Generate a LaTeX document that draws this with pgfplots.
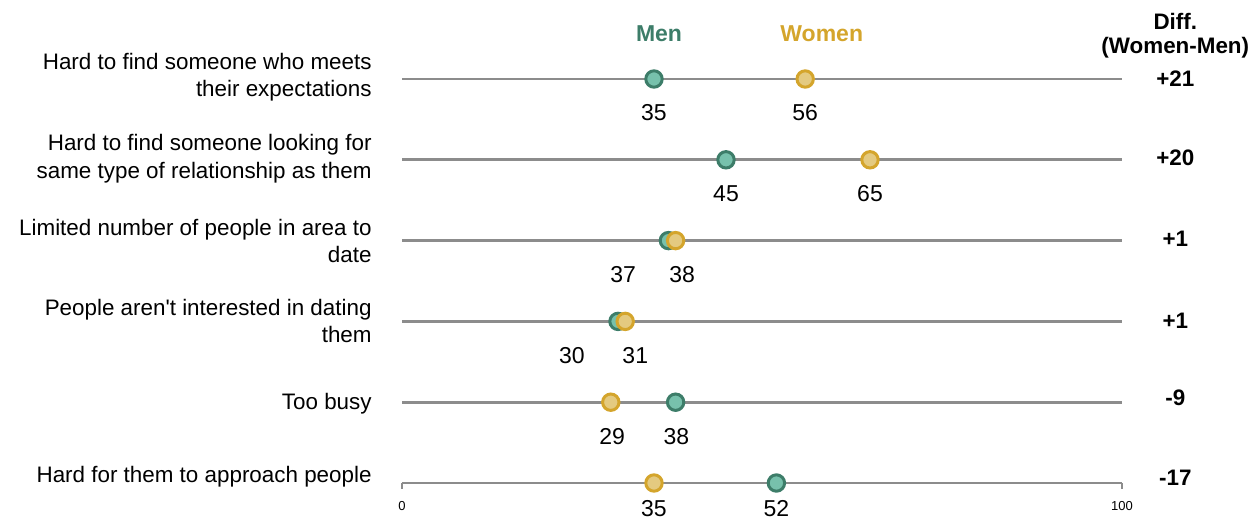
\documentclass[border=0pt]{standalone}
\usepackage{pgfplots}
\pgfplotsset{compat=1.18}
\usepackage{fontspec}
\setmainfont{Liberation Sans}
\definecolor{menE}{HTML}{3D7D69}
\definecolor{menF}{HTML}{77C1AC}
\definecolor{womE}{HTML}{D4A52C}
\definecolor{womF}{HTML}{E4CA80}
\definecolor{lineg}{HTML}{8C8C8C}
\tikzset{
  vl/.style={font=\fontsize{11.5}{13}\selectfont, anchor=center, inner sep=0pt},
  cl/.style={font=\fontsize{11.2}{13.6}\selectfont, anchor=east, align=right, inner sep=0pt},
  dl/.style={font=\fontsize{11.2}{12}\selectfont\bfseries, anchor=center, inner sep=0pt},
}
\begin{document}
\begin{tikzpicture}
\begin{axis}[
  scale only axis, width=630pt, height=259.5pt,
  xmin=-55.833, xmax=119.167, ymin=0.0223, ymax=6.4455, y dir=reverse,
  hide axis, clip=false,
]
% guide lines
\addplot[lineg, line width=1.3pt, unbounded coords=jump] coordinates {
 (0,1)(100,1) (0,nan) (0,2)(100,2) (0,nan) (0,3)(100,3) (0,nan)
 (0,4)(100,4) (0,nan) (0,5)(100,5) (0,nan) (0,6)(100,6)};
\addplot[lineg, line width=1.3pt, unbounded coords=jump] coordinates {
 (0,6)(0,6.075) (0,nan) (100,6)(100,6.075)};
% Men
\addplot[only marks, mark=*, mark size=4.1pt, line width=1.5pt, draw=menE, fill=menF,
  mark options={draw=menE, fill=menF}] coordinates {
 (35,1) (45,2) (37,3) (30,4) (38,5) (52,6)};
% Women
\addplot[only marks, mark=*, mark size=4.1pt, line width=1.5pt, draw=womE, fill=womF,
  mark options={draw=womE, fill=womF}] coordinates {
 (56,1) (65,2) (38,3) (31,4) (29,5) (35,6)};
% value labels
\node[vl] at (axis cs:35,1.415) {35};
\node[vl] at (axis cs:56,1.415) {56};
\node[vl] at (axis cs:45,2.415) {45};
\node[vl] at (axis cs:65,2.415) {65};
\node[vl] at (axis cs:30.7,3.42) {37};
\node[vl] at (axis cs:38.9,3.42) {38};
\node[vl] at (axis cs:23.6,4.42) {30};
\node[vl] at (axis cs:32.4,4.42) {31};
\node[vl] at (axis cs:29.2,5.42) {29};
\node[vl] at (axis cs:38.1,5.42) {38};
\node[vl] at (axis cs:35,6.32) {35};
\node[vl] at (axis cs:52,6.32) {52};
% legend
\node[inner sep=0pt, font=\fontsize{11.5}{13}\selectfont\bfseries, text=menE] at (axis cs:35.7,0.443) {Men};
\node[inner sep=0pt, font=\fontsize{11.5}{13}\selectfont\bfseries, text=womE] at (axis cs:58.3,0.443) {Women};
% tick labels
\node[inner sep=0pt, font=\fontsize{6.5}{8}\selectfont] at (axis cs:0,6.29) {0};
\node[inner sep=0pt, font=\fontsize{6.5}{8}\selectfont] at (axis cs:100,6.29) {100};
% category labels
\node[cl, yshift=0.7pt] at (axis cs:-4.17,1) {Hard to find someone who meets\\their expectations};
\node[cl, yshift=0.5pt] at (axis cs:-4.17,2) {Hard to find someone looking for\\same type of relationship as them};
\node[cl, yshift=0pt] at (axis cs:-4.17,3) {Limited number of people in area to\\date};
\node[cl, yshift=0.3pt] at (axis cs:-4.17,4) {People aren\textquotesingle t interested in dating\\them};
\node[cl, yshift=-0.8pt] at (axis cs:-4.17,5) {Too busy};
\node[cl, yshift=3pt] at (axis cs:-4.17,6) {Hard for them to approach people};
% diff column
\node[dl] at (axis cs:107.4,0.282) {Diff.};
\node[dl] at (axis cs:107.4,0.616) {(Women-Men)};
\node[dl] at (axis cs:107.4,1) {+21};
\node[dl, yshift=1.2pt] at (axis cs:107.4,2) {+20};
\node[dl, yshift=0.8pt] at (axis cs:107.4,3) {+1};
\node[dl, yshift=0.5pt] at (axis cs:107.4,4) {+1};
\node[dl, yshift=2pt] at (axis cs:107.4,5) {-9};
\node[dl, yshift=2.5pt] at (axis cs:107.4,6) {-17};
\end{axis}
\pgfresetboundingbox
\path (current axis.south west) rectangle (current axis.north east);
\end{tikzpicture}
\end{document}
